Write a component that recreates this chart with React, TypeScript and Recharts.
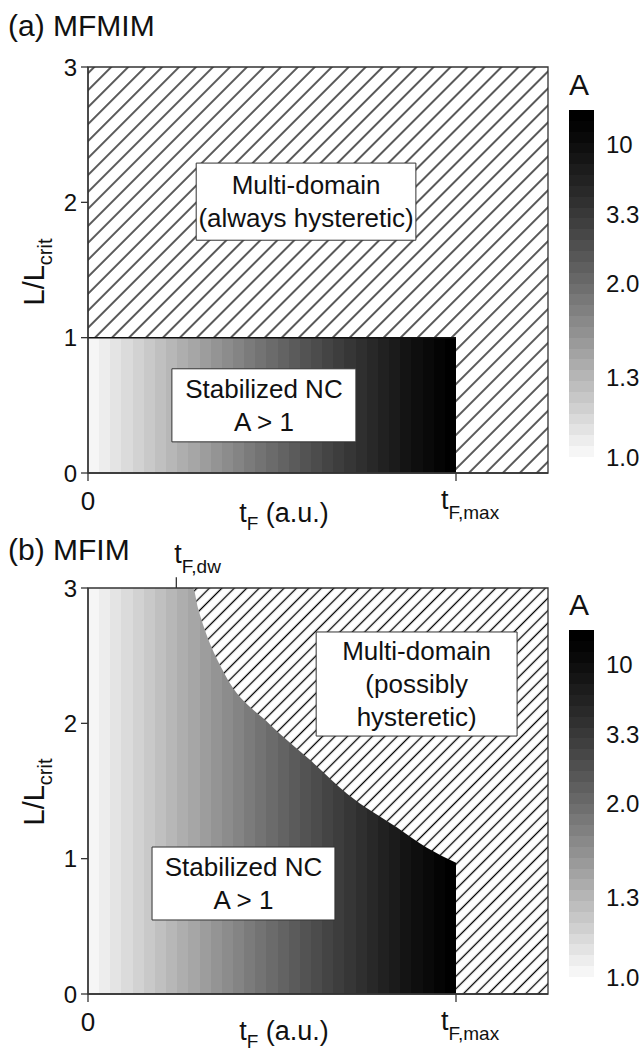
import React from 'react';
import { ComposedChart, BarChart, Area, Bar, XAxis, YAxis, ReferenceArea, ReferenceLine } from 'recharts';

const FONT = '"Liberation Sans", Arial, Helvetica, sans-serif';
const INK = '#111';
const FRAME = '#333';

// tF in units of tF,max
const T_END = 1.25;
const T_MAX = 1;
const T_DW = 0.24;
const L_MAX = 3;
const L_TICKS = [0, 1, 2, 3];
const T_TICKS = [0, T_MAX];

// upper edge of the stabilized NC region (L/Lcrit vs tF)
const stableA = [
  { t: 0, L: 1 },
  { t: 1, L: 1 },
];
const stableB = [
  { t: 0, L: 3 },
  { t: 0.285, L: 3 },
  { t: 0.299, L: 2.85 },
  { t: 0.3125, L: 2.73 },
  { t: 0.372, L: 2.36 },
  { t: 0.495, L: 1.99 },
  { t: 0.603, L: 1.73 },
  { t: 0.704, L: 1.48 },
  { t: 0.84, L: 1.23 },
  { t: 0.921, L: 1.08 },
  { t: 1, L: 0.97 },
];

// colour bar (A)
const A_TICK_POS = [0, 0.23, 0.5, 0.7, 0.9];
const A_TICK_LABELS = ['1.0', '1.3', '2.0', '3.3', '10'];
const barData = [{ name: 'A', v: 1 }];

// text boxes
const boxesA = [
  { t1: 0.294, t2: 0.891, l1: 1.72, l2: 2.29, lines: ['Multi-domain', '(always hysteretic)'] },
  { t1: 0.228, t2: 0.728, l1: 0.23, l2: 0.77, lines: ['Stabilized NC', 'A > 1'] },
];
const boxesB = [
  { t1: 0.62, t2: 1.166, l1: 1.906, l2: 2.675, lines: ['Multi-domain', '(possibly', 'hysteretic)'] },
  { t1: 0.174, t2: 0.671, l1: 0.547, l2: 1.086, lines: ['Stabilized NC', 'A > 1'] },
];

function Steps({ id, n, vertical }: any) {
  const stops: any[] = [];
  for (let i = 0; i < n; i++) {
    const g = Math.round(246 * Math.pow(1 - i / (n - 1), 1.2));
    const c = `rgb(${g},${g},${g})`;
    stops.push(<stop key={i + 'a'} offset={i / n} stopColor={c} />);
    stops.push(<stop key={i + 'b'} offset={(i + 1) / n} stopColor={c} />);
  }
  return vertical ? (
    <linearGradient id={id} x1="0" y1="1" x2="0" y2="0">{stops}</linearGradient>
  ) : (
    <linearGradient id={id} x1="0" y1="0" x2="1" y2="0">{stops}</linearGradient>
  );
}

const BoxText = ({ viewBox, lines }: any) => {
  if (!viewBox) return null;
  const { x, y, width, height } = viewBox;
  const cx = x + width / 2;
  const lh = 33;
  const first = y + height / 2 - ((lines.length - 1) * lh) / 2 + 9;
  return (
    <text textAnchor="middle" fontSize={26} fontFamily={FONT} fill={INK}>
      {lines.map((s: string, i: number) => (
        <tspan key={i} x={cx} y={first + i * lh}>{s}</tspan>
      ))}
    </text>
  );
};

const BottomTick = ({ x, y, payload }: any) => {
  if (payload.value === 0) {
    return <text x={x} y={y + 27} textAnchor="middle" fontSize={26} fontFamily={FONT} fill={INK}>0</text>;
  }
  return (
    <text x={x - 15} y={y + 26} fontSize={27} fontFamily={FONT} fill={INK}>
      t<tspan fontSize={19} dy={10}>F,max</tspan>
    </text>
  );
};

// label of the tF,dw tick drawn above the frame
const DwLabel = ({ viewBox }: any) => {
  if (!viewBox) return null;
  return (
    <text x={viewBox.x - 2} y={viewBox.y - 14} fontSize={27} fontFamily={FONT} fill={INK}>
      t<tspan fontSize={19} dy={10}>F,dw</tspan>
    </text>
  );
};

function Panel({ id, top, height, mTop, mBottom, title, titleY, data, boxes, hatch, outline, dw, yLabelY, xLabelY }: any) {
  return (
    <div style={{ position: 'absolute', left: 0, top }}>
      <ComposedChart width={639} height={height} data={data} margin={{ top: mTop, right: 91, bottom: mBottom, left: 48 }}>
        <defs>
          <pattern id={`hatch-${id}`} patternUnits="userSpaceOnUse" width={hatch} height={hatch} patternTransform="rotate(45)">
            <line x1={hatch / 2} y1={0} x2={hatch / 2} y2={hatch} stroke="#000" strokeWidth={1.3} />
          </pattern>
          <Steps id={`grad-${id}`} n={33} />
        </defs>
        <ReferenceArea x1={0} x2={T_END} y1={0} y2={L_MAX} fill={`url(#hatch-${id})`} fillOpacity={1} stroke="none" zIndex={-10} />
        <Area
          type="monotoneX"
          dataKey="L"
          fill={`url(#grad-${id})`}
          fillOpacity={1}
          stroke={outline ? INK : 'none'}
          strokeWidth={1.5}
          dot={false}
          activeDot={false}
          isAnimationActive={false}
        />
        {boxes.map((b: any, i: number) => (
          <ReferenceArea
            key={i}
            x1={b.t1}
            x2={b.t2}
            y1={b.l1}
            y2={b.l2}
            fill="#fff"
            fillOpacity={1}
            stroke={FRAME}
            strokeWidth={1}
            zIndex={450}
            label={(p: any) => <BoxText {...p} lines={b.lines} />}
          />
        ))}
        {/* plot frame */}
        <ReferenceArea x1={0} x2={T_END} y1={0} y2={L_MAX} fill="none" stroke={FRAME} strokeWidth={1.3} zIndex={460} />
        {dw && (
          <ReferenceLine
            segment={[{ x: T_DW, y: L_MAX }, { x: T_DW, y: L_MAX + 0.08 }]}
            ifOverflow="visible"
            stroke={FRAME}
            strokeWidth={1.3}
            zIndex={460}
            label={(p: any) => <DwLabel {...p} />}
          />
        )}
        <XAxis
          type="number"
          dataKey="t"
          domain={[0, T_END]}
          ticks={T_TICKS}
          interval={0}
          height={40}
          tickSize={8}
          tickMargin={2}
          axisLine={{ stroke: FRAME, strokeWidth: 1.3 }}
          tickLine={{ stroke: FRAME, strokeWidth: 1.3 }}
          tick={(p: any) => <BottomTick {...p} />}
        />
        <YAxis
          type="number"
          domain={[0, L_MAX]}
          ticks={L_TICKS}
          interval={0}
          width={40}
          tickSize={7}
          tickMargin={4}
          allowDataOverflow
          axisLine={{ stroke: FRAME, strokeWidth: 1.3 }}
          tickLine={{ stroke: FRAME, strokeWidth: 1.3 }}
          tick={{ fontSize: 24, fill: INK, fontFamily: FONT }}
        />
        <text x={8} y={titleY} fontSize={30} fontFamily={FONT} fill={INK}>{title}</text>
        <text x={284} y={xLabelY} textAnchor="middle" fontSize={27} fontFamily={FONT} fill={INK}>
          t<tspan fontSize={19} dy={8}>F</tspan>
          <tspan dy={-8}> (a.u.)</tspan>
        </text>
        <text
          x={44}
          y={yLabelY}
          textAnchor="middle"
          transform={`rotate(-90 44 ${yLabelY})`}
          fontSize={29}
          fontFamily={FONT}
          fill={INK}
        >
          L/L<tspan fontSize={20} dy={8}>crit</tspan>
        </text>
      </ComposedChart>
    </div>
  );
}

function ColorBar({ id, top }: any) {
  return (
    <div style={{ position: 'absolute', left: 569, top }}>
      <BarChart width={70} height={480} data={barData} margin={{ top: 110, right: 0, bottom: 23, left: 0 }} barCategoryGap={0}>
        <defs>
          <Steps id={`cb-${id}`} n={32} vertical />
        </defs>
        <XAxis dataKey="name" hide />
        <YAxis
          orientation="right"
          type="number"
          domain={[0, 1]}
          ticks={A_TICK_POS}
          interval={0}
          width={45}
          tickLine={false}
          axisLine={false}
          tickMargin={6}
          tickFormatter={(v: number) => A_TICK_LABELS[A_TICK_POS.indexOf(v)]}
          tick={{ fontSize: 24, fill: INK, fontFamily: FONT }}
        />
        <Bar dataKey="v" fill={`url(#cb-${id})`} isAnimationActive={false} />
        <text x={10} y={95} textAnchor="middle" fontSize={30} fontFamily={FONT} fill={INK}>A</text>
      </BarChart>
    </div>
  );
}

export default function App() {
  return (
    <div style={{ position: 'absolute', left: 0, top: 0, width: 639, height: 1055, background: '#fff' }}>
      <Panel
        id="a"
        top={0}
        height={545}
        mTop={67}
        mBottom={32}
        title="(a) MFMIM"
        titleY={36}
        data={stableA}
        boxes={boxesA}
        hatch={12}
        outline
        dw={false}
        yLabelY={272}
        xLabelY={522}
      />
      <Panel
        id="b"
        top={530}
        height={525}
        mTop={58}
        mBottom={21}
        title="(b) MFIM"
        titleY={30}
        data={stableB}
        boxes={boxesB}
        hatch={8.8}
        outline={false}
        dw
        yLabelY={262}
        xLabelY={510}
      />
      <ColorBar id="a" top={0} />
      <ColorBar id="b" top={520} />
    </div>
  );
}
